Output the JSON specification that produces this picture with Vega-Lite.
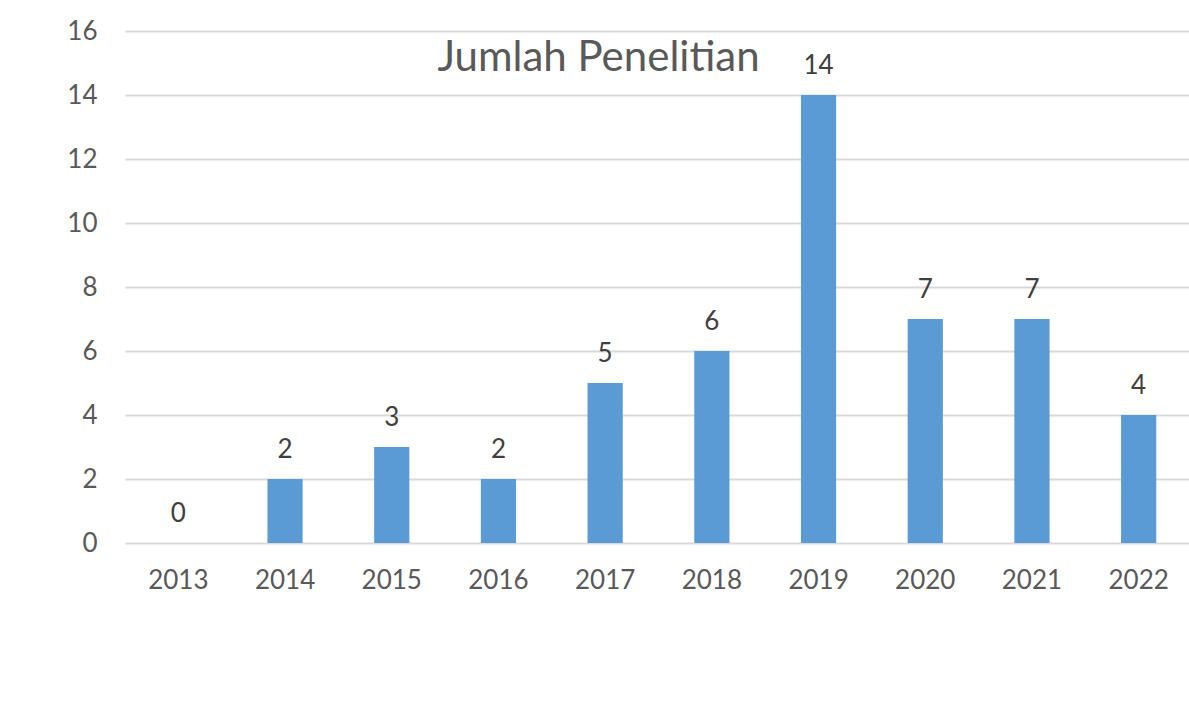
{
  "$schema": "https://vega.github.io/schema/vega-lite/v6.json",
  "autosize": {"type": "none"},
  "padding": {"left": 125, "top": 31, "right": 0, "bottom": 172},
  "width": 1067,
  "height": 512,
  "background": "white",
  "config": {
    "font": "Lato",
    "view": {"stroke": null}
  },
  "title": {
    "text": "Jumlah Penelitian",
    "fontSize": 42,
    "fontWeight": "normal",
    "color": "#595959",
    "font": "Lato",
    "anchor": "middle",
    "frame": "group",
    "orient": "top",
    "baseline": "alphabetic",
    "offset": -95,
    "dx": -60
  },
  "data": {
    "values": [
      {"year": "2013", "count": 0},
      {"year": "2014", "count": 2},
      {"year": "2015", "count": 3},
      {"year": "2016", "count": 2},
      {"year": "2017", "count": 5},
      {"year": "2018", "count": 6},
      {"year": "2019", "count": 14},
      {"year": "2020", "count": 7},
      {"year": "2021", "count": 7},
      {"year": "2022", "count": 4}
    ]
  },
  "encoding": {
    "x": {
      "field": "year",
      "type": "ordinal",
      "scale": {"paddingInner": 0.67, "paddingOuter": 0.335},
      "axis": {
        "title": null,
        "labelAngle": 0,
        "labelFontSize": 26,
        "labelColor": "#595959",
        "labelPadding": 24,
        "ticks": false,
        "domain": false
      }
    },
    "y": {
      "field": "count",
      "type": "quantitative",
      "scale": {"domain": [0, 16], "nice": false},
      "axis": {
        "title": null,
        "values": [0, 2, 4, 6, 8, 10, 12, 14, 16],
        "labelFontSize": 26,
        "labelColor": "#595959",
        "labelPadding": 28,
        "ticks": false,
        "domain": false,
        "gridColor": "#D9D9D9",
        "gridWidth": 2
      }
    }
  },
  "layer": [
    {"mark": {"type": "bar", "color": "#5B9BD5"}},
    {
      "mark": {"type": "text", "baseline": "middle", "dy": -29, "fontSize": 26, "color": "#404040"},
      "encoding": {"text": {"field": "count", "type": "quantitative"}}
    }
  ]
}
